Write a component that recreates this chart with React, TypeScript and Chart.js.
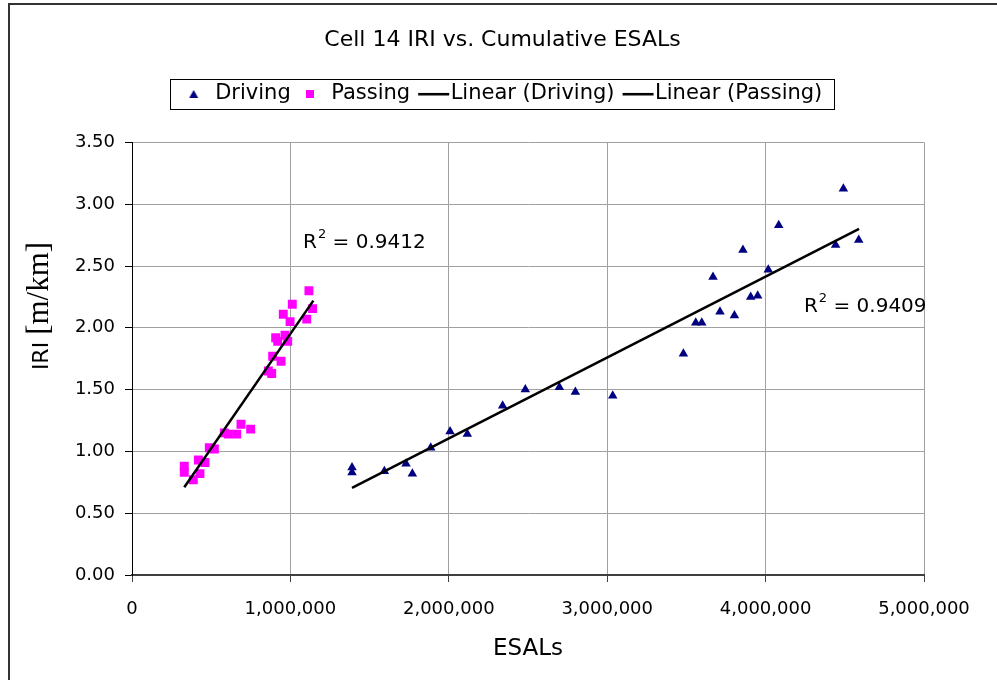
import React, { useEffect, useRef } from "react";
import { Chart, registerables } from "chart.js";

Chart.register(...registerables);

// ---- data ----
const drivingX = [1389000, 1389000, 1593000, 1730000, 1770000, 1886000, 2008000, 2117000, 2340000, 2483000, 2698000, 2799000, 3035000, 3481000, 3559000, 3597000, 3668000, 3712000, 3803000, 3857000, 3906000, 3950000, 4017000, 4083000, 4442000, 4491000, 4588000];
const drivingY = [0.87, 0.83, 0.84, 0.90, 0.82, 1.03, 1.16, 1.14, 1.37, 1.50, 1.52, 1.48, 1.45, 1.79, 2.04, 2.04, 2.41, 2.13, 2.10, 2.63, 2.25, 2.26, 2.47, 2.83, 2.67, 3.125, 2.71];

const passingX = [330000, 330000, 387000, 419000, 429000, 461000, 488000, 520000, 583000, 608000, 661000, 688000, 749000, 861000, 882000, 888000, 907000, 920000, 941000, 955000, 966000, 983000, 998000, 1012000, 1103000, 1117000, 1140000];
const passingY = [0.88, 0.83, 0.77, 0.93, 0.82, 0.91, 1.03, 1.02, 1.15, 1.14, 1.14, 1.22, 1.18, 1.65, 1.63, 1.77, 1.92, 1.89, 1.73, 2.11, 1.94, 1.89, 2.05, 2.19, 2.07, 2.30, 2.155];

const drivingTrendX = [1389000, 4590000];
const drivingTrendY = [0.705, 2.80];
const passingTrendX = [330000, 1145000];
const passingTrendY = [0.71, 2.22];

const xTickValues = [0, 1000000, 2000000, 3000000, 4000000, 5000000];
const yTickValues = [0, 0.5, 1.0, 1.5, 2.0, 2.5, 3.0, 3.5];

const seriesNames = ["Driving", "Passing", "Linear (Driving)", "Linear (Passing)"];
const r2Values = ["0.9412", "0.9409"];
const r2AnchorX = [1080000, 4242000];
const r2AnchorY = [2.69, 2.17];

const TITLE = "Cell 14 IRI vs. Cumulative ESALs";
const X_TITLE = "ESALs";

const NAVY = "#000080";
const MAGENTA = "#ff00ff";
const SANS = "'DejaVu Sans', sans-serif";
const SERIF = "'Liberation Serif', serif";

const pts = (xs: number[], ys: number[]) => xs.map((v, i) => ({ x: v, y: ys[i] }));

export default function App() {
  const ref = useRef<HTMLCanvasElement>(null);

  useEffect(() => {
    const canvas = ref.current;
    if (!canvas) return;

    const mk = (w: number, h: number, fn: (g: CanvasRenderingContext2D) => void) => {
      const c = document.createElement("canvas");
      c.width = w;
      c.height = h;
      const g = c.getContext("2d")!;
      fn(g);
      return c;
    };
    const triIcon = mk(10, 8, (g) => {
      g.fillStyle = NAVY;
      g.beginPath();
      g.moveTo(5, 0);
      g.lineTo(9.5, 8);
      g.lineTo(0.5, 8);
      g.closePath();
      g.fill();
    });
    const sqIcon = mk(8, 8, (g) => {
      g.fillStyle = MAGENTA;
      g.fillRect(0, 0, 8, 8);
    });
    const lineIcon = mk(46, 4, (g) => {
      g.fillStyle = "#000";
      g.fillRect(12, 1, 31, 2.5);
    });
    const icons = [triIcon, sqIcon, lineIcon, lineIcon];

    const extras = {
      id: "extras",
      afterDraw(chart: any) {
        const { ctx } = chart;
        const xs = chart.scales.x;
        const ys = chart.scales.y;
        ctx.save();

        // legend frame
        const hb = chart.legend?.legendHitBoxes || [];
        if (hb.length) {
          let l = Infinity, r = -Infinity;
          hb.forEach((h: any) => {
            l = Math.min(l, h.left);
            r = Math.max(r, h.left + h.width);
          });
          const cy = hb[0].top + hb[0].height / 2;
          ctx.strokeStyle = "#000";
          ctx.lineWidth = 1;
          ctx.strokeRect(Math.round(l - 13) + 0.5, Math.round(cy - 15) + 0.5, Math.round(r - l + 24), 30);
        }

        // R^2 labels
        ctx.fillStyle = "#000";
        ctx.textBaseline = "middle";
        ctx.textAlign = "left";
        r2Values.forEach((v, i) => {
          let px = xs.getPixelForValue(r2AnchorX[i]);
          const py = ys.getPixelForValue(r2AnchorY[i]);
          ctx.font = `20px ${SANS}`;
          ctx.fillText("R", px, py);
          px += ctx.measureText("R").width;
          ctx.font = `13px ${SANS}`;
          ctx.fillText("2", px + 1, py - 8);
          px += ctx.measureText("2").width + 1;
          ctx.font = `20px ${SANS}`;
          ctx.fillText(" = " + v, px, py);
        });

        // y axis title: "IRI" (sans) + "[m/km]" (serif)
        ctx.save();
        ctx.translate(48, 306);
        ctx.rotate(-Math.PI / 2);
        ctx.textBaseline = "alphabetic";
        ctx.font = `22px ${SANS}`;
        const w1 = ctx.measureText("IRI ").width;
        ctx.font = `31px ${SERIF}`;
        const w2 = ctx.measureText("[m/km]").width;
        const start = -(w1 + w2) / 2;
        ctx.font = `22px ${SANS}`;
        ctx.fillText("IRI ", start, 0);
        ctx.font = `31px ${SERIF}`;
        ctx.fillText("[m/km]", start + w1, 0);
        ctx.restore();

        ctx.restore();
      },
    };

    const chart = new Chart(canvas, {
      type: "scatter",
      data: {
        datasets: [
          {
            label: seriesNames[0],
            data: pts(drivingX, drivingY),
            pointStyle: "triangle",
            pointRadius: 5.5,
            backgroundColor: NAVY,
            borderColor: NAVY,
            borderWidth: 0,
            order: 1,
          },
          {
            label: seriesNames[1],
            data: pts(passingX, passingY),
            pointStyle: "rect",
            pointRadius: 6.3,
            backgroundColor: MAGENTA,
            borderColor: MAGENTA,
            borderWidth: 0,
            order: 2,
          },
          {
            label: seriesNames[2],
            data: pts(drivingTrendX, drivingTrendY),
            showLine: true,
            pointRadius: 0,
            borderColor: "#000",
            borderWidth: 2.5,
            order: -1,
          },
          {
            label: seriesNames[3],
            data: pts(passingTrendX, passingTrendY),
            showLine: true,
            pointRadius: 0,
            borderColor: "#000",
            borderWidth: 2.5,
            order: -2,
          },
        ],
      },
      options: {
        responsive: false,
        animation: false,
        events: [],
        layout: { padding: { left: 8, right: 0, top: 0, bottom: 0 } },
        plugins: {
          title: {
            display: true,
            text: TITLE,
            color: "#000",
            font: { family: SANS, size: 22, weight: "normal" },
            padding: { top: 27, bottom: 22 },
          },
          subtitle: {
            display: true,
            text: " ",
            weight: 500,
            font: { family: SANS, size: 10, lineHeight: 1 },
            padding: { top: 9, bottom: 9 },
          } as any,
          legend: {
            display: true,
            position: "top",
            labels: {
              color: "#000",
              font: { family: SANS, size: 21 },
              usePointStyle: true,
              pointStyleWidth: 22,
              boxWidth: 22,
              padding: 8,
              generateLabels: () =>
                seriesNames.map((t, i) => ({
                  text: t,
                  pointStyle: icons[i] as any,
                  fillStyle: "#000",
                  strokeStyle: "#000",
                  lineWidth: 0,
                  hidden: false,
                  datasetIndex: i,
                  fontColor: "#000",
                })),
            },
          },
          tooltip: { enabled: false },
        },
        scales: {
          x: {
            type: "linear",
            min: 0,
            max: 5000000,
            afterBuildTicks: (s: any) => {
              s.ticks = xTickValues.map((v) => ({ value: v }));
            },
            afterFit: (s: any) => {
              s.height = 105;
            },
            ticks: {
              color: "#000",
              font: { family: SANS, size: 18 },
              padding: 17,
              maxRotation: 0,
              callback: (v: any) => Number(v).toLocaleString("en-US"),
            },
            grid: { color: "#a0a0a0", lineWidth: 1, tickLength: 7, tickColor: "#404040" },
            border: { color: "#404040", width: 2 },
            title: {
              display: true,
              text: X_TITLE,
              color: "#000",
              font: { family: SANS, size: 23 },
              padding: { top: 0, bottom: 17 },
            },
          },
          y: {
            type: "linear",
            min: 0,
            max: 3.5,
            afterBuildTicks: (s: any) => {
              s.ticks = yTickValues.map((v) => ({ value: v }));
            },
            afterFit: (s: any) => {
              s.width = 124;
            },
            ticks: {
              color: "#000",
              font: { family: SANS, size: 18 },
              padding: 10,
              callback: (v: any) => Number(v).toFixed(2),
            },
            grid: { color: "#a0a0a0", lineWidth: 1, tickLength: 7, tickColor: "#000" },
            border: { color: "#000", width: 1 },
          },
          yRight: {
            type: "linear",
            position: "right",
            min: 0,
            max: 3.5,
            display: true,
            afterFit: (s: any) => {
              s.width = 73;
            },
            ticks: { display: false },
            grid: { display: false, drawTicks: false },
            border: { display: false },
          },
        },
      },
      plugins: [extras],
    });

    return () => chart.destroy();
  }, []);

  return (
    <div style={{ position: "fixed", left: 0, top: 0, width: 997, height: 680, background: "#fff" }}>
      <canvas ref={ref} width={997} height={680} style={{ display: "block", width: 997, height: 680 }} />
      <div
        style={{
          position: "fixed",
          left: 8,
          top: 3,
          width: 3000,
          height: 3000,
          borderLeft: "2px solid #333",
          borderTop: "2px solid #333",
          pointerEvents: "none",
        }}
      />
    </div>
  );
}
